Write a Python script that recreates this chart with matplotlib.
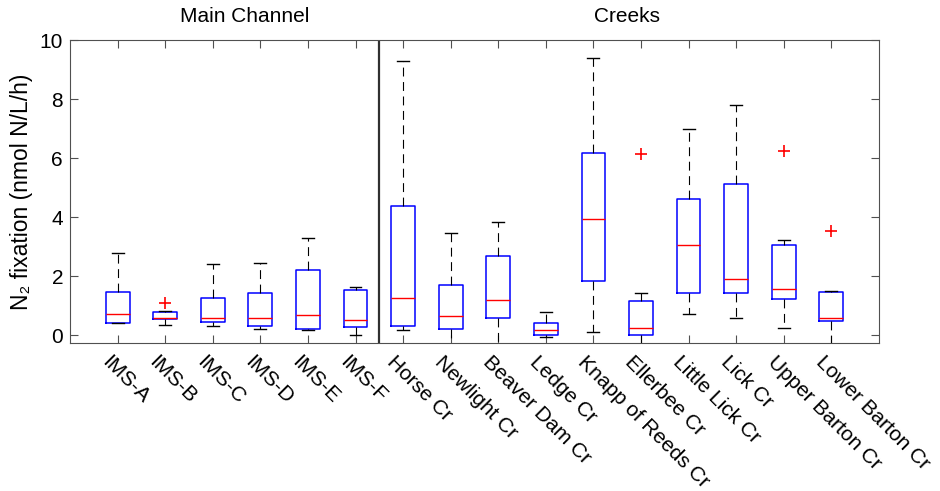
import matplotlib
matplotlib.use("Agg")
import matplotlib.pyplot as plt
import matplotlib.transforms as mtransforms

plt.rcParams['font.family'] = ['Liberation Sans', 'DejaVu Sans']

# sites, left group = main channel, right group = creeks
sites = ["IMS-A", "IMS-B", "IMS-C", "IMS-D", "IMS-E", "IMS-F",
         "Horse Cr", "Newlight Cr", "Beaver Dam Cr", "Ledge Cr",
         "Knapp of Reeds Cr", "Ellerbee Cr", "Little Lick Cr", "Lick Cr",
         "Upper Barton Cr", "Lower Barton Cr"]

# box stats (nmol N/L/h)
whis_hi = [2.77, 0.80, 2.41, 2.43, 3.29, 1.64, 9.30, 3.47, 3.84, 0.78,
           9.40, 1.41, 7.00, 7.79, 3.22, 1.48]
q3 = [1.47, 0.77, 1.24, 1.43, 2.20, 1.52, 4.37, 1.69, 2.69, 0.42,
      6.16, 1.14, 4.62, 5.13, 3.04, 1.46]
med = [0.70, 0.57, 0.57, 0.58, 0.67, 0.51, 1.26, 0.63, 1.20, 0.16,
       3.92, 0.23, 3.06, 1.90, 1.55, 0.58]
q1 = [0.42, 0.54, 0.43, 0.31, 0.19, 0.26, 0.31, 0.19, 0.59, -0.01,
      1.84, -0.01, 1.42, 1.41, 1.21, 0.47]
whis_lo = [0.42, 0.33, 0.32, 0.21, 0.17, 0.00, 0.16, -0.30, -0.30, -0.07,
           0.11, -0.30, 0.71, 0.59, 0.23, -0.30]
outliers = [[], [1.10], [], [], [], [], [], [], [], [],
            [], [6.15], [], [], [6.25], [3.53]]

n_main = 6
yticks = [0, 2, 4, 6, 8, 10]

stats = []
for i in range(len(sites)):
    stats.append(dict(label=sites[i], whislo=whis_lo[i], q1=q1[i], med=med[i],
                      q3=q3[i], whishi=whis_hi[i], fliers=outliers[i]))

fig = plt.figure(figsize=(9.4, 4.91), dpi=100)
ax = fig.add_axes([0.0745, 0.3014, 0.8605, 0.6171])

pos = list(range(1, len(sites) + 1))
ax.bxp(stats, positions=pos, widths=0.5, showfliers=True,
       boxprops=dict(color="blue", linewidth=1.1),
       medianprops=dict(color="red", linewidth=1.0),
       whiskerprops=dict(color="black", linewidth=0.8, linestyle=(0, (8, 5))),
       capprops=dict(color="black", linewidth=1.0),
       capwidths=0.25,
       flierprops=dict(marker="+", markeredgecolor="red", markersize=9,
                       markeredgewidth=1.2, linestyle="none"))

ax.axvline(n_main + 0.5, color="#303030", linewidth=1.6)

ax.set_xlim(0, len(sites) + 1)
ax.set_ylim(-0.27, 10)
ax.set_yticks(yticks)
ax.set_xticks(pos)
ax.set_xticklabels(sites, rotation=-45, ha="left", va="top",
                   rotation_mode="anchor", fontsize=13.6)
ax.tick_params(direction="in", top=True, right=True, length=6,
               labelsize=15, color="#505050")
ax.tick_params(axis="x", pad=7)
ax.tick_params(axis="y", pad=5)
for sp in ax.spines.values():
    sp.set_color("#505050")

shift = mtransforms.ScaledTranslation(-0.06, 0, fig.dpi_scale_trans)
for lab in ax.get_xticklabels():
    lab.set_transform(lab.get_transform() + shift)

ax.set_ylabel("N₂ fixation (nmol N/L/h)", fontsize=16.5, labelpad=5)

fig.text(245 / 940, 1 - 17 / 491, "Main Channel", fontsize=15,
         ha="center", va="center")
fig.text(627 / 940, 1 - 16 / 491, "Creeks", fontsize=15,
         ha="center", va="center")

fig.savefig("out.png", dpi=100)
